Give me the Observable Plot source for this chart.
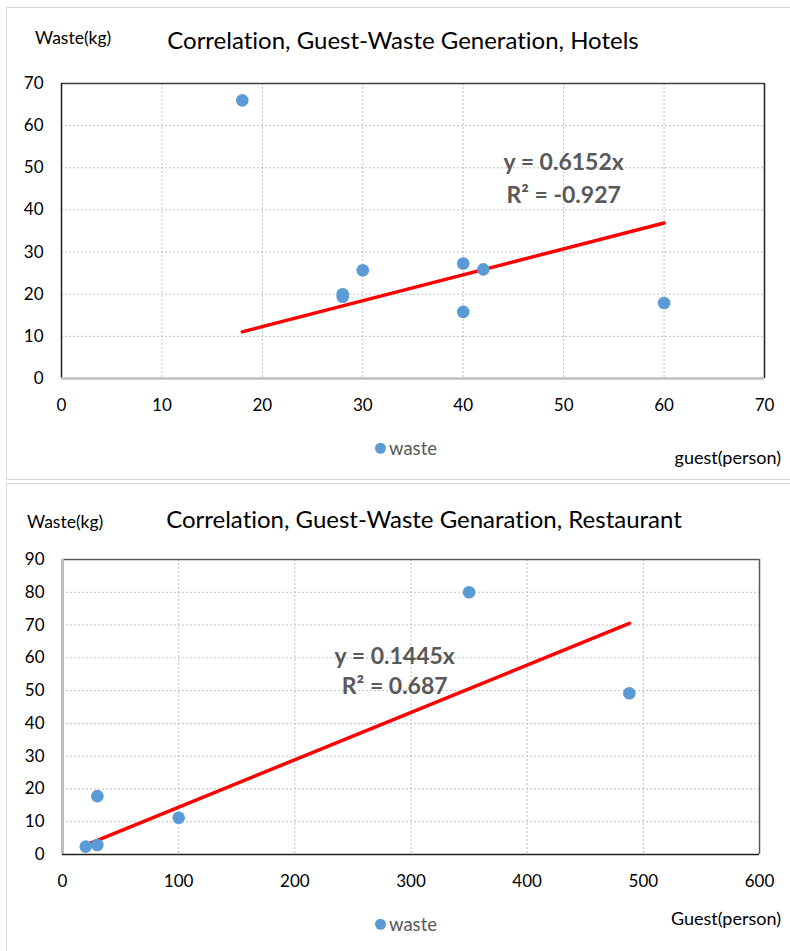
<!DOCTYPE html>
<html>
<head>
<meta charset="utf-8">
<script src="https://cdn.jsdelivr.net/npm/d3@7"></script>
<script src="https://cdn.jsdelivr.net/npm/@observablehq/plot@0.6"></script>
<style>
  html, body { margin: 0; padding: 0; background: #fff; }
  body { width: 790px; height: 951px; position: relative; overflow: hidden; font-family: Lato, "Open Sans", sans-serif; font-variant-ligatures: none; }
  svg { font-variant-ligatures: none; }
  .panel { position: absolute; border: 1.5px solid #d9d9d9; box-sizing: border-box; }
  .chart { position: absolute; left: 0; }
  .txt { position: absolute; white-space: nowrap; line-height: 1; }
  .title { font-size: 24px; color: #000; transform: translate(-50%, -50%); }
  .ylab { font-size: 17.5px; color: #000; transform: translate(0, -50%); }
  .xlab { font-size: 18px; color: #000; transform: translate(-100%, -50%); }
  .legend { font-size: 18.5px; color: #595959; transform: translate(0, -50%); display: flex; align-items: center; }
  .legend .sw { display: inline-block; width: 11px; height: 11px; border-radius: 50%; background: #5b9bd5; margin-right: 3px; }
</style>
</head>
<body>
<div class="panel" style="left:6px; top:7px; width:790px; height:473px;"></div>
<div class="panel" style="left:6px; top:483px; width:790px; height:480px;"></div>
<div id="chart1" class="chart" style="top:0px;"></div>
<div id="chart2" class="chart" style="top:480px;"></div>

<div class="txt ylab" style="left:35px; top:38px;">Waste(kg)</div>
<div class="txt title" style="left:403px; top:40px;">Correlation, Guest-Waste Generation, Hotels</div>
<div class="txt legend" style="left:375px; top:448px;"><span class="sw"></span>waste</div>
<div class="txt xlab" style="left:781px; top:457px;">guest(person)</div>

<div class="txt ylab" style="left:27px; top:522px;">Waste(kg)</div>
<div class="txt title" style="left:424px; top:519px;">Correlation, Guest-Waste Genaration, Restaurant</div>
<div class="txt legend" style="left:375px; top:924px;"><span class="sw"></span>waste</div>
<div class="txt xlab" style="left:781px; top:918px;">Guest(person)</div>

<script>
// ---- Data: Hotels ----
const hotelGuests = [18, 28, 28, 30, 40, 40, 42, 60];
const hotelWaste  = [66, 20, 19.4, 25.7, 27.3, 15.8, 25.9, 17.9];
const hotelSlope  = 0.6152;
const hotelEq     = ["y = 0.6152x", "R² = -0.927"];
const hotelXTicks = [0, 10, 20, 30, 40, 50, 60, 70];
const hotelYTicks = [0, 10, 20, 30, 40, 50, 60, 70];

// ---- Data: Restaurant ----
const restGuests = [20, 30, 30, 100, 350, 488];
const restWaste  = [2.4, 2.9, 17.8, 11.2, 80, 49.2];
const restSlope  = 0.1445;
const restEq     = ["y = 0.1445x", "R² = 0.687"];
const restXTicks = [0, 100, 200, 300, 400, 500, 600];
const restYTicks = [0, 10, 20, 30, 40, 50, 60, 70, 80, 90];

function makeChart(o) {
  const pts = o.guests.map((g, i) => ({g, w: o.waste[i]}));
  const gMin = d3.min(o.guests), gMax = d3.max(o.guests);
  const trend = [gMin, gMax].map(g => ({g, w: o.slope * g}));
  const xMax = o.xTicks[o.xTicks.length - 1], yMax = o.yTicks[o.yTicks.length - 1];
  const grid = {stroke: "#bfbfbf", strokeDasharray: "2,2", strokeWidth: 1};
  return Plot.plot({
    width: 790,
    height: o.height,
    marginLeft: o.ml, marginRight: o.mr, marginTop: o.mt, marginBottom: o.mb,
    style: {fontFamily: "Lato, 'Open Sans', sans-serif", fontSize: "17px", color: "#000", background: "transparent"},
    x: {domain: [0, xMax], ticks: o.xTicks, tickSize: 0, tickPadding: o.xPad, label: null},
    y: {domain: [0, yMax], ticks: o.yTicks, tickSize: 0, tickPadding: 18, label: null},
    marks: [
      Plot.ruleX(o.xTicks.slice(1, -1), grid),
      Plot.ruleY(o.yTicks.slice(1, -1), grid),
      Plot.ruleY([yMax], {stroke: o.topColor, strokeWidth: 1.5}),
      Plot.ruleX([xMax], {stroke: o.rightColor, strokeWidth: 1.5}),
      Plot.ruleX([0], {stroke: o.leftColor, strokeWidth: o.leftWidth}),
      Plot.ruleY([0], {stroke: o.bottomColor, strokeWidth: o.bottomWidth}),
      Plot.line(trend, {x: "g", y: "w", stroke: "#ff0000", strokeWidth: 3.5}),
      Plot.dot(pts, {x: "g", y: "w", r: 6.3, fill: "#5b9bd5", stroke: "none"}),
      Plot.text([o.eq.join("\n")], {
        x: o.labelX, y: o.labelY, text: d => d,
        fontSize: 23, fontWeight: "bold", fill: "#595959",
        lineHeight: o.lineHeight, textAnchor: "middle"
      })
    ]
  });
}

document.getElementById("chart1").appendChild(makeChart({
  guests: hotelGuests, waste: hotelWaste, slope: hotelSlope, eq: hotelEq,
  xTicks: hotelXTicks, yTicks: hotelYTicks,
  height: 480, ml: 61, mr: 26, mt: 83, mb: 102, xPad: 20,
  labelX: 50, labelY: 48, lineHeight: 1.4,
  topColor: "#404040", rightColor: "#202020", leftColor: "#202020", leftWidth: 1.5,
  bottomColor: "#bfbfbf", bottomWidth: 2.5
}));

document.getElementById("chart2").appendChild(makeChart({
  guests: restGuests, waste: restWaste, slope: restSlope, eq: restEq,
  xTicks: restXTicks, yTicks: restYTicks,
  height: 471, ml: 62, mr: 31, mt: 79, mb: 97, xPad: 20,
  labelX: 286, labelY: 56.5, lineHeight: 1.3,
  topColor: "#595959", rightColor: "#595959", leftColor: "#bfbfbf", leftWidth: 3,
  bottomColor: "#202020", bottomWidth: 1.5
}));
</script>
</body>
</html>
